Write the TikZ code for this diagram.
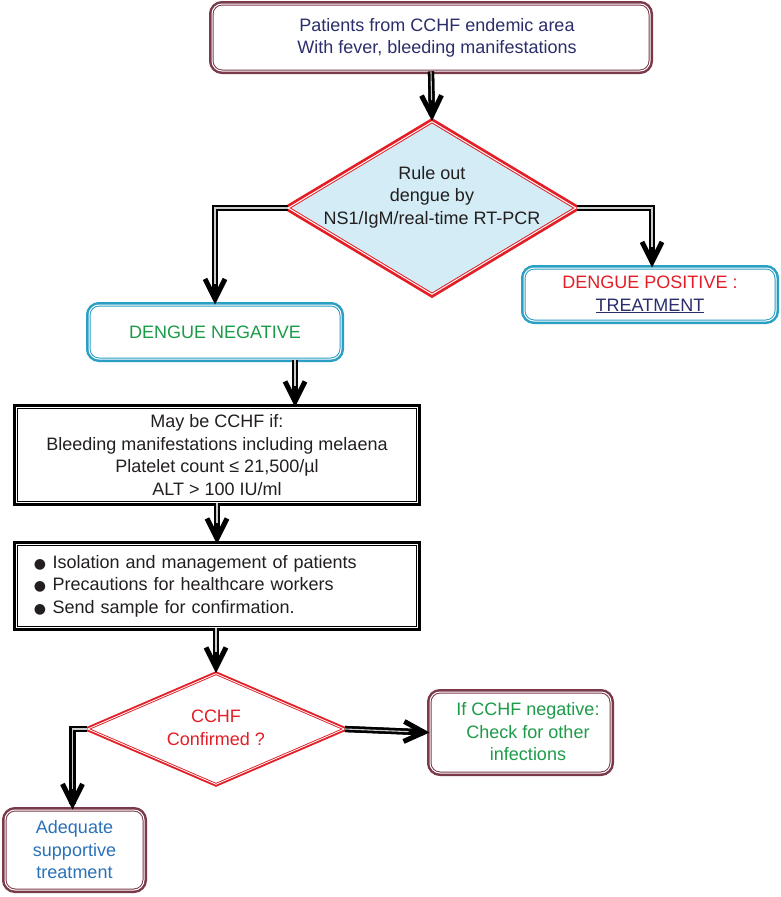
\documentclass[tikz,border=0pt]{standalone}
\usepackage{fontspec}
\setmainfont{Liberation Sans}
\newfontfamily\dejavu{DejaVu Sans}
\usetikzlibrary{shapes.geometric,arrows.meta}
\definecolor{cMaroon}{HTML}{7B3A4A}
\definecolor{cNavy}{HTML}{2B2E6B}
\definecolor{cRed}{HTML}{E31E26}
\definecolor{cFill}{HTML}{D3ECF5}
\definecolor{cCyan}{HTML}{2A9FC4}
\definecolor{cGreen}{HTML}{1C9B48}
\definecolor{cBlue}{HTML}{2A71B8}
\definecolor{cInk}{HTML}{231F20}
\newcommand\blt{\makebox[18.5pt][l]{\dejavu\fontsize{14}{22.5}\selectfont ●}}
\newcommand\wire[3]{\draw[conn] #1 #2 #3; \draw[connshaft] #1 #2 #3; \draw[connin] #1 #2 #3;}
\begin{document}
\begin{tikzpicture}[x=1pt,y=-1pt,
  font=\fontsize{18}{22.5}\selectfont,
  txt/.style={inner sep=0pt, align=center},
  dbl/.style={draw=#1, line width=1pt, double=white, double distance=1pt,
    preaction={draw=#1, line width=6pt}},
  rbox/.style={dbl=cMaroon, rounded corners=10pt, fill=white, align=center, inner sep=2pt},
  cbox/.style={dbl=cCyan, rounded corners=10pt, fill=white, align=center, inner sep=2pt},
  kbox/.style={draw=black, line width=1pt, double=white, double distance=1.2pt,
    preaction={draw=black, line width=7pt}, fill=white, align=center, inner sep=2pt},
  dia/.style={diamond, inner sep=0pt},
  conn/.style={draw=black, line width=6.2pt, line join=miter,
    -{Straight Barb[length=20pt,width=20pt,line width'=5pt]}},
  connshaft/.style={draw=black, line width=6.2pt, line join=miter, shorten >=6pt},
  connin/.style={draw=white!80!black, line width=1.1pt, shorten >=21pt}
]
\useasboundingbox (0,0) rectangle (781,897);
\fill[white] (0,0) rectangle (781,897);

% boxes
\node[rbox, minimum width=438pt, minimum height=67pt] (top) at (431,37.5) {};
\node[txt, text=cNavy] (toptxt) at (437,38) {Patients from CCHF endemic area\\With fever, bleeding manifestations};

\node[dia, draw=cRed, line width=1pt, double=white, double distance=1pt,
  preaction={draw=cRed, line width=6.5pt}, fill=cFill,
  minimum width=288pt, minimum height=173pt] (d1) at (432,208) {};
\node[txt, text=cInk] (d1txt) at (432,197) {Rule out\\dengue by\\NS1/IgM/real-time RT-PCR};

\node[cbox, minimum width=252pt, minimum height=53pt] (pos) at (650,294.5)
  {\textcolor{cRed}{DENGUE POSITIVE :}\\\textcolor{cNavy}{\underline{TREATMENT}}};

\node[cbox, minimum width=252pt, minimum height=54pt, text=cGreen] (neg) at (215,332) {DENGUE NEGATIVE};

\node[kbox, minimum width=401pt, minimum height=95pt, text=cInk] (may) at (217,455)
  {May be CCHF if:\\Bleeding manifestations including melaena\\Platelet count ≤ 21,500/µl\\ALT > 100 IU/ml};

\node[kbox, text width=366pt, align=left, inner xsep=17.5pt, minimum height=83pt, text=cInk] (care) at (217,586)
  {\blt Isolation and management of patients\\
   \blt Precautions for healthcare workers\\
   \blt Send sample for confirmation.};

\node[dia, draw=cRed, line width=0.9pt, double=white, double distance=0.8pt,
  preaction={draw=cRed, line width=4.6pt}, fill=white,
  minimum width=257pt, minimum height=111pt] (d2) at (216,729) {};
\node[txt, text=cRed] (d2txt) at (216,728) {CCHF\\Confirmed ?};

\node[rbox, minimum width=181pt, minimum height=81pt] (inf) at (520.5,732.5) {};
\node[txt, text=cGreen] (inftxt) at (528,732) {If CCHF negative:\\Check for other\\infections};

\node[rbox, minimum width=139pt, minimum height=80pt, text=cBlue] (ade) at (74.5,850) {Adequate\\supportive\\treatment};

% connectors
\wire{(top.south)}{--}{(d1.north)}
\wire{(d1.west)}{-|}{(neg.north)}
\wire{(d1.east)}{-|}{([xshift=2pt]pos.north)}
\wire{([xshift=80pt]neg.south)}{--}{([xshift=80pt]neg.south |- may.north)}
\wire{(may.south)}{--}{(care.north)}
\wire{(care.south -| d2.north)}{--}{(d2.north)}
\wire{(d2.west)}{-|}{([xshift=-2pt]ade.north)}
\wire{(d2.east)}{--}{(inf.west)}
\end{tikzpicture}
\end{document}
